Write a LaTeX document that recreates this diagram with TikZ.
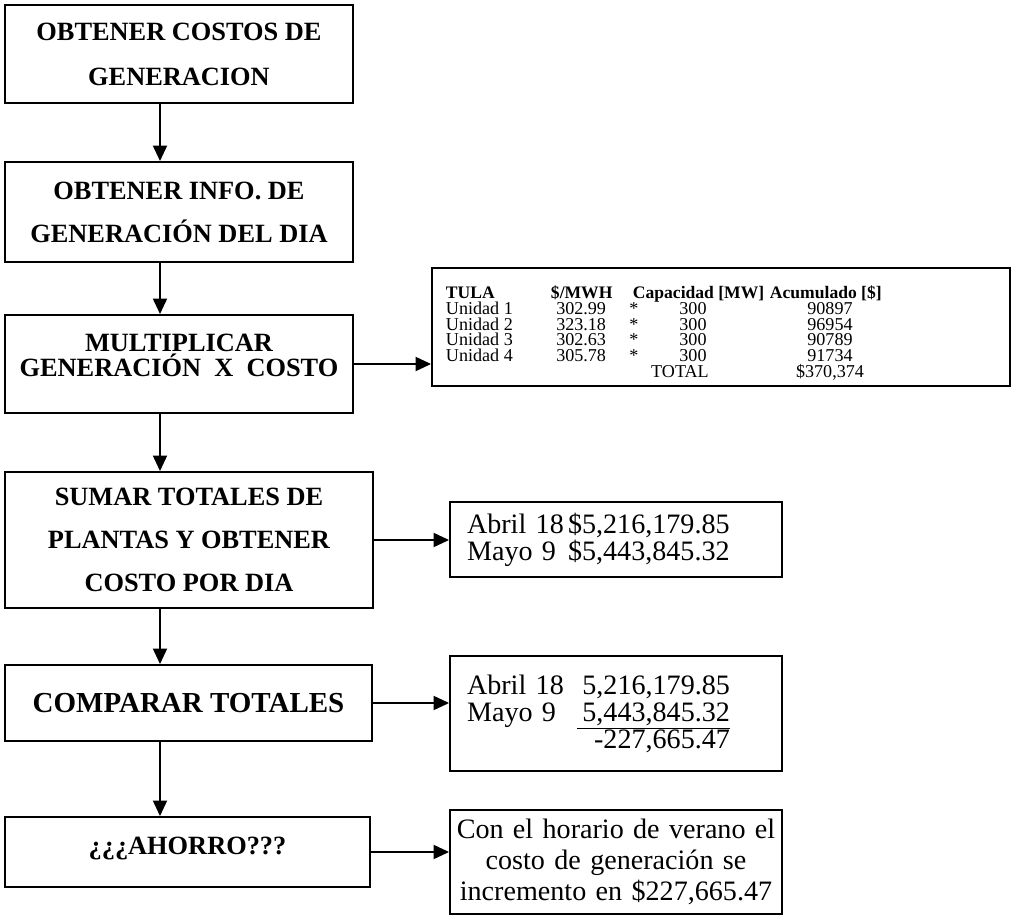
\documentclass[tikz,border=0pt]{standalone}
\usepackage{fontspec}
\setmainfont{Liberation Serif}
\usetikzlibrary{arrows.meta}

\begin{document}
\begin{tikzpicture}[x=0.02cm, y=-0.02cm, line width=1.1pt, >={Triangle[length=3.1mm, width=2.8mm]},
	paso/.style={draw, align=center, inner sep=0pt, font=\fontsize{15}{#1}\selectfont\bfseries},
	paso/.default=24.5,
	dato/.style={draw, inner xsep=0.34cm, inner ysep=0pt, text width=5.96cm, font=\fontsize{16}{#1}\selectfont},
	dato/.default=15.4,
	celda/.style={inner sep=0pt, font=\fontsize{10.3}{10.3}\selectfont},
	cab/.style={celda, font=\fontsize{10}{10}\selectfont\bfseries}]
	\useasboundingbox (0,0) rectangle (1015,916);
	\coordinate (eje) at (160,0);
	% pasos
	\node[paso=25.6, minimum width=6.96cm, minimum height=1.96cm] (costos) at (179,54) {OBTENER COSTOS DE\\GENERACION};
	\node[paso, minimum width=6.96cm, minimum height=2cm] (info) at (179,212) {OBTENER INFO. DE\\GENERACIÓN DEL DIA};
	\node[paso=14.2, minimum width=6.96cm, minimum height=1.96cm] (mult) at (179,364) {MULTIPLICAR\\GENERACIÓN\ \ X\ \ COSTO\\[-0.14cm]\mbox{}};
	\node[paso, minimum width=7.36cm, minimum height=2.72cm] (sumar) at (189,540) {SUMAR TOTALES DE\\PLANTAS Y OBTENER\\COSTO POR DIA};
	\node[paso, font=\fontsize{16.5}{16.5}\selectfont\bfseries, minimum width=7.34cm, minimum height=1.52cm] (comp) at (188.5,703) {COMPARAR TOTALES};
	\node[paso, minimum width=7.3cm, minimum height=1.4cm] (ahorro) at (187.5,852) {\raisebox{0.26cm}{¿¿¿AHORRO???}};
	\draw[->] (costos.south -| eje) -- (info.north -| eje);
	\draw[->] (info.south -| eje) -- (mult.north -| eje);
	\draw[->] (mult.south -| eje) -- (sumar.north -| eje);
	\draw[->] (sumar.south -| eje) -- (comp.north -| eje);
	\draw[->] (comp.south -| eje) -- (ahorro.north -| eje);
	% tabla de TULA
	\node[draw, inner sep=0pt, minimum width=11.56cm, minimum height=2.36cm] (tabla) at (721,327) {};
	\node[cab, anchor=base west] (h1) at (445,298) {TULA};
	\node[cab, anchor=base west] (h2) at (550,298) {\$/MWH};
	\node[cab, anchor=base west] (h3) at (632,298) {Capacidad [MW]};
	\node[cab, anchor=base west] (h4) at (769,298) {Acumulado [\$]};
	\foreach \u/\c/\a [count=\i] in {1/302.99/90897, 2/323.18/96954, 3/302.63/90789, 4/305.78/91734}{
		\node[celda, anchor=base west] (u\i) at (445,299+15.5*\i) {Unidad \u};
		\node[celda, anchor=base east] (c\i) at (607,299+15.5*\i) {\c};
		\node[celda, anchor=base] (s\i) at (634,299+15.5*\i) {*};
		\node[celda, anchor=base] (p\i) at (693,299+15.5*\i) {300};
		\node[celda, anchor=base] (a\i) at (830,299+15.5*\i) {\a};
	}
	\node[celda, anchor=base] (tot) at (680,377) {TOTAL};
	\node[celda, anchor=base] (suma) at (830,377) {\$370,374};
	% resultados
	\node[dato, minimum height=1.5cm, align=left] (dias) at (616,539.5) {\makebox[2.02cm][l]{Abril 18}\$5,216,179.85\\\makebox[2.02cm][l]{Mayo 9}\$5,443,845.32};
	\node[dato, minimum height=2.3cm, align=left] (compara) at (616,713.5) {\makebox[2.3cm][l]{Abril 18}\makebox[2.96cm][r]{5,216,179.85}\\
		\makebox[2.2cm][l]{Mayo 9}\underline{\makebox[3.06cm][r]{5,443,845.32}}\\
		\makebox[2.3cm]{}\makebox[2.96cm][r]{-227,665.47}};
	\node[dato=17.6, inner xsep=0.1cm, text width=6.44cm, minimum height=2.08cm, align=center] (concl) at (616,862) {Con el horario de verano el\\costo de generación se\\incremento en \$227,665.47};
	\draw[->] (mult.east) -- (mult.east -| tabla.west);
	\draw[->] (sumar.east) -- (sumar.east -| dias.west);
	\draw[->] (comp.east) -- (comp.east -| compara.west);
	\draw[->] (ahorro.east) -- (ahorro.east -| concl.west);
\end{tikzpicture}
\end{document}
